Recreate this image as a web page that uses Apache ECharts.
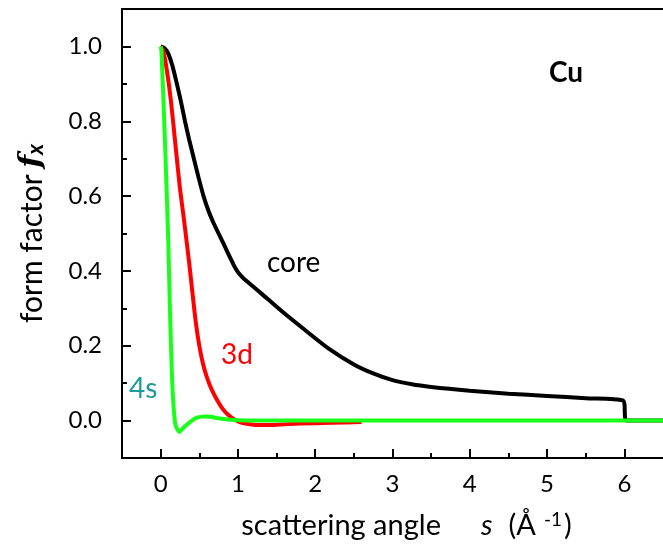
<!DOCTYPE html>
<html>
<head>
<meta charset="utf-8">
<script src="https://cdn.jsdelivr.net/npm/echarts@6/dist/echarts.min.js"></script>
<style>
  html, body { margin: 0; padding: 0; background: #fff; }
  #chart { width: 663px; height: 545px; }
</style>
</head>
<body>
<div id="chart"></div>
<script>
// form factor curves (s in 1/Å, f dimensionless)
const coreS = [0, 0.05, 0.1, 0.15, 0.21, 0.26, 0.315, 0.37, 0.43, 0.49, 0.555, 0.62, 0.68, 0.75, 0.82, 0.9, 0.95, 1.0, 1.05, 1.1, 1.29, 1.58, 1.88, 2.17, 2.5, 2.75, 3.0, 3.25, 3.5, 4.0, 4.5, 5.0, 5.5, 5.98, 6.03, 6.5];
const coreF = [1.0, 0.995, 0.98, 0.95, 0.9, 0.855, 0.8, 0.75, 0.7, 0.65, 0.6, 0.56, 0.53, 0.5, 0.47, 0.435, 0.414, 0.397, 0.385, 0.375, 0.342, 0.29, 0.24, 0.193, 0.15, 0.126, 0.108, 0.097, 0.09, 0.08, 0.072, 0.066, 0.06, 0.054, 0.0, 0.0];

const d3S = [0, 0.03, 0.07, 0.13, 0.2, 0.25, 0.3, 0.37, 0.45, 0.5, 0.55, 0.6, 0.66, 0.73, 0.8, 0.88, 0.96, 1.05, 1.2, 1.35, 1.5, 1.8, 2.2, 2.6];
const d3F = [1.0, 0.99, 0.95, 0.86, 0.72, 0.62, 0.54, 0.42, 0.27, 0.2, 0.15, 0.115, 0.083, 0.055, 0.032, 0.014, 0.002, -0.006, -0.011, -0.012, -0.011, -0.008, -0.006, -0.004];

const s4S = [0, 0.01, 0.05, 0.08, 0.1, 0.12, 0.14, 0.16, 0.19, 0.24, 0.3, 0.38, 0.46, 0.56, 0.65, 0.75, 0.9, 1.1, 2, 4, 6.5];
const s4F = [1.0, 0.99, 0.78, 0.6, 0.47, 0.3, 0.16, 0.06, -0.01, -0.03, -0.018, -0.004, 0.007, 0.011, 0.01, 0.006, 0.002, 0.0, 0.0, 0.0, 0.0];

const xLabels = [0, 1, 2, 3, 4, 5, 6];
const xMinor = [0.5, 1.5, 2.5, 3.5, 4.5, 5.5];
const yLabels = [0, 0.2, 0.4, 0.6, 0.8, 1.0];
const yMinor = [0.1, 0.3, 0.5, 0.7, 0.9];

const pairs = (xs, ys) => xs.map((x, i) => [x, ys[i]]);
const font = 'Lato';

const chart = echarts.init(document.getElementById('chart'));
chart.setOption({
  animation: false,
  grid: { left: 122, top: 9, right: -14, bottom: 86 },
  xAxis: [
    {
      type: 'value', min: -0.5, max: 6.5, interval: 0.5,
      axisLine: { onZero: false, lineStyle: { color: '#000', width: 2 } },
      axisTick: { inside: true, length: 9, customValues: xLabels, lineStyle: { color: '#000', width: 2 } },
      axisLabel: { customValues: xLabels, color: '#000', fontSize: 24, fontFamily: font, margin: 14,
        formatter: v => String(v) },
      splitLine: { show: false },
      name: '{t|scattering angle}{s|s}{t|(Å}{sup|-1}{t|)}',
      nameLocation: 'middle', nameGap: 52,
      nameTextStyle: {
        padding: [0, 0, 0, 28],
        rich: {
          t: { fontSize: 29, fontFamily: font, color: '#000' },
          s: { fontSize: 29, fontFamily: font, fontStyle: 'italic', color: '#000', padding: [0, 16, 0, 40] },
          sup: { fontSize: 19, fontFamily: font, color: '#000', verticalAlign: 'top', padding: [0, 2, 12, 8] }
        }
      }
    },
    {
      type: 'value', min: -0.5, max: 6.5, interval: 0.5, position: 'bottom',
      axisLine: { show: false, onZero: false },
      axisTick: { inside: true, length: 5, customValues: xMinor, lineStyle: { color: '#000', width: 2 } },
      axisLabel: { show: false }, splitLine: { show: false }
    },
    {
      type: 'value', min: -0.5, max: 6.5, position: 'top',
      axisLine: { onZero: false, lineStyle: { color: '#000', width: 2 } },
      axisTick: { show: false }, axisLabel: { show: false }, splitLine: { show: false }
    }
  ],
  yAxis: [
    {
      type: 'value', min: -0.1, max: 1.1, interval: 0.1,
      axisLine: { show: true, onZero: false, lineStyle: { color: '#000', width: 2 } },
      axisTick: { show: true, inside: true, length: 9, customValues: yLabels, lineStyle: { color: '#000', width: 2 } },
      axisLabel: { customValues: yLabels, color: '#000', fontSize: 24, fontFamily: font, margin: 20,
        formatter: v => v.toFixed(1) },
      splitLine: { show: false },
      name: '{t|form factor}  {f|f}{x|x}',
      nameLocation: 'middle', nameRotate: 90, nameGap: 75,
      nameTextStyle: {
        rich: {
          t: { fontSize: 30, fontFamily: font, color: '#000' },
          f: { fontSize: 30, fontFamily: 'DejaVu Serif', fontStyle: 'italic', fontWeight: 'bold', color: '#000' },
          x: { fontSize: 22, fontFamily: font, fontStyle: 'italic', fontWeight: 'bold', color: '#000', padding: [8, 0, 0, 0] }
        }
      }
    },
    {
      type: 'value', min: -0.1, max: 1.1, interval: 0.1, position: 'left',
      axisLine: { show: false, onZero: false },
      axisTick: { show: true, inside: true, length: 5, customValues: yMinor, lineStyle: { color: '#000', width: 2 } },
      axisLabel: { show: false }, splitLine: { show: false }
    }
  ],
  series: [
    { type: 'line', name: 'core', data: pairs(coreS, coreF), showSymbol: false, smooth: 0.25,
      lineStyle: { color: '#000', width: 4 } },
    { type: 'line', name: '3d', data: pairs(d3S, d3F), showSymbol: false, smooth: 0.2,
      lineStyle: { color: '#ff0000', width: 4 } },
    { type: 'line', name: '4s', data: pairs(s4S, s4F), showSymbol: false, smooth: 0.2,
      lineStyle: { color: '#1aff1a', width: 4 } }
  ],
  graphic: [
    { type: 'text', left: 267, top: 249, style: { text: 'core', fontSize: 28, fontFamily: font, fill: '#000' } },
    { type: 'text', left: 221, top: 341, style: { text: '3d', fontSize: 28, fontFamily: font, fill: '#ff0000' } },
    { type: 'text', left: 129, top: 375, style: { text: '4s', fontSize: 28, fontFamily: font, fill: '#1a9a9a' } },
    { type: 'text', left: 549, top: 59, style: { text: 'Cu', fontSize: 28, fontFamily: font, fontWeight: 'bold', fill: '#000' } }
  ]
});
</script>
</body>
</html>
